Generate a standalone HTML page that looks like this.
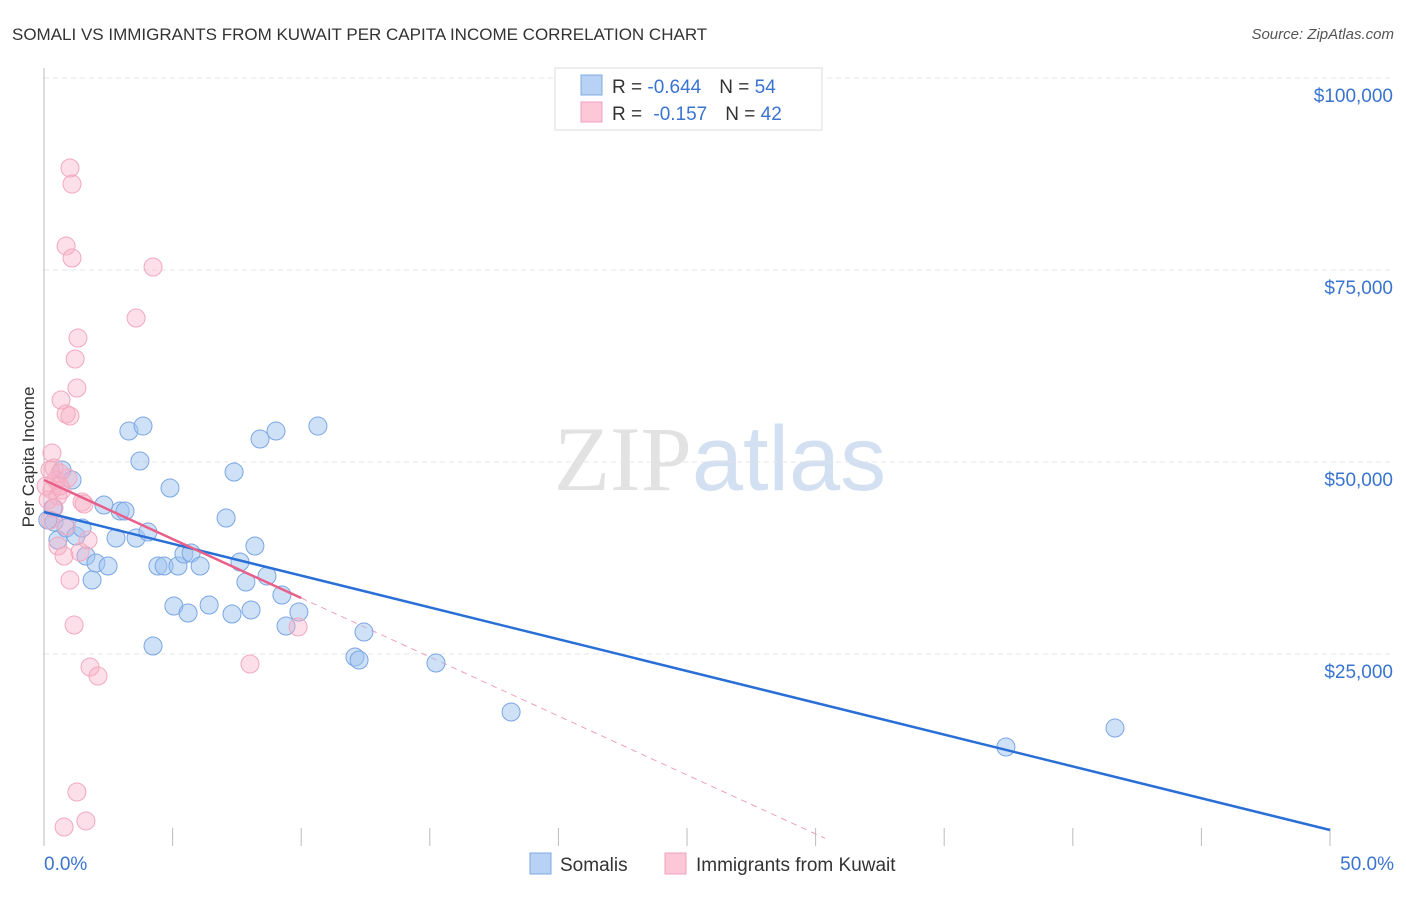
<!DOCTYPE html>
<html><head><meta charset="utf-8"><style>
body{margin:0;background:#fff;font-family:"Liberation Sans",sans-serif}
svg text{font-family:"Liberation Sans",sans-serif}
</style></head><body>
<svg id="chart" width="1406" height="892" viewBox="0 0 1406 892" xmlns="http://www.w3.org/2000/svg">
<text x="12" y="40" font-size="17" fill="#333">SOMALI VS IMMIGRANTS FROM KUWAIT PER CAPITA INCOME CORRELATION CHART</text>
<text x="1394" y="39" font-size="15" fill="#555" text-anchor="end" font-style="italic">Source: ZipAtlas.com</text>
<text transform="translate(34,457) rotate(-90)" font-size="17" fill="#333" text-anchor="middle">Per Capita Income</text>
<text x="720" y="490" font-size="92" text-anchor="middle"><tspan fill="#e2e2e2" font-family="Liberation Serif">ZIP</tspan><tspan fill="#d2e0f2">atlas</tspan></text>
<g id="grid"></g><g id="axes"></g><g id="lines"></g><g id="pts"></g>
<g>
<rect x="555" y="68" width="267" height="62" fill="#fff" stroke="#ddd"/>
<rect x="581" y="75" width="21" height="20" fill="#b8d2f5" stroke="#7fa8e0"/>
<text x="612" y="93" font-size="19" fill="#333">R = <tspan fill="#3a74d0">-0.644</tspan><tspan dx="18">N = </tspan><tspan fill="#3a74d0">54</tspan></text>
<rect x="581" y="102" width="21" height="20" fill="#fcc8d8" stroke="#eea0b8"/>
<text x="612" y="120" font-size="19" fill="#333">R = <tspan dx="6" fill="#3a74d0">-0.157</tspan><tspan dx="18">N = </tspan><tspan fill="#3a74d0">42</tspan></text>
</g>
<g><rect x="530" y="853" width="21" height="21" fill="#b8d2f5" stroke="#7fa8e0"/><text x="560" y="871" font-size="19" fill="#333">Somalis</text></g>
<g><rect x="665" y="853" width="21" height="21" fill="#fcc8d8" stroke="#eea0b8"/><text x="696" y="871" font-size="19" fill="#333">Immigrants from Kuwait</text></g>
</svg>
<script>
const yTicks=[25000,50000,75000,100000];
const yTickLabels=["$25,000","$50,000","$75,000","$100,000"];
const xTicks=[0,5,10,15,20,25,30,35,40,45,50];
const somaliX=[0.35,0.39,0.54,0.70,1.09,0.86,1.24,1.48,1.63,1.87,2.02,2.33,2.49,2.80,2.96,3.15,3.30,3.58,3.73,3.85,4.04,4.24,4.43,4.67,4.90,5.05,5.21,5.44,5.60,5.72,6.07,6.42,7.08,7.31,7.39,7.62,7.85,8.05,8.20,8.40,8.67,9.02,9.25,9.41,9.91,10.65,12.09,12.25,12.44,15.24,18.16,37.40,41.64,0.15];
const somaliY=[44000,42190,39840,48960,47650,41400,40360,41400,37760,34630,36850,44400,36460,40100,43620,43620,54030,40100,50130,54680,40880,26040,36460,36460,46610,31250,36460,38020,30340,38150,36460,31380,42710,30210,48700,36980,34370,30730,39060,52990,35150,54030,32680,28640,30470,54680,24610,24220,27860,23830,17450,12890,15360,42450];
const kuwaitX=[1.01,1.09,0.86,1.09,4.24,3.58,1.32,1.21,1.28,0.66,0.86,1.01,0.31,0.39,0.62,0.47,0.23,0.31,0.70,0.54,0.16,0.39,1.48,1.56,0.86,0.54,1.40,0.78,1.71,1.01,1.17,1.79,2.10,8.01,9.88,1.28,0.78,1.63,0.08,0.62,0.23,0.93];
const kuwaitY=[88280,86190,78120,76560,75390,68750,66140,63410,59630,58070,56250,55990,51170,49220,48560,47650,48960,46350,46350,45570,45050,44010,44790,44530,41660,39060,38280,37760,39840,34630,28770,23310,22130,23700,28510,7030,2470,3260,46870,46870,42450,47910];
const somaliFit=[43490,2080];
const kuwaitFit=[47650,32290];
const NS="http://www.w3.org/2000/svg";
const X=v=>44+v*25.72, Y=v=>846-v/25000*192;
function mk(t,a,p){const e=document.createElementNS(NS,t);for(const k in a)e.setAttribute(k,a[k]);p.appendChild(e);return e;}
const g=document.getElementById('grid'),ax=document.getElementById('axes'),ln=document.getElementById('lines'),pts=document.getElementById('pts');
yTicks.forEach((t,i)=>{
 const l=mk('line',{x1:44,x2:1392,y1:Y(t),y2:Y(t),stroke:'#e4e4e4','stroke-dasharray':'5,4'},g);
 
 
 const tx=mk('text',{x:1393,y:Y(t)+24,'font-size':19,fill:'#3a74d0','text-anchor':'end'},ax);
 tx.textContent=yTickLabels[i];
 
 
});
const yl=mk('line',{x1:44,x2:44,y1:68,y2:846,stroke:'#bbb'},ax);


xTicks.forEach(t=>{
 const l=mk('line',{x1:X(t),x2:X(t),y1:828,y2:846,stroke:'#bbb'},ax);
 
 
});
const x0=mk('text',{x:44,y:870,'font-size':19,fill:'#3a74d0'},ax);x0.textContent=xTicks[0].toFixed(1)+'%';


const x1=mk('text',{x:1394,y:870,'font-size':19,fill:'#3a74d0','text-anchor':'end'},ax);x1.textContent=xTicks[xTicks.length-1].toFixed(1)+'%';


const slopeK=(kuwaitFit[1]-kuwaitFit[0])/10, xz=(1000-kuwaitFit[0])/slopeK;
const kd=mk('line',{x1:X(10),y1:Y(kuwaitFit[1]),x2:X(xz),y2:Y(1000),stroke:'#f0a0b8','stroke-dasharray':'6,5'},ln);


somaliX.forEach((v,i)=>{
 const c=mk('circle',{cx:X(v),cy:Y(somaliY[i]),r:9,fill:'rgba(160,195,240,0.5)',stroke:'#7aa6e4','stroke-width':1},pts);
 
 
});
kuwaitX.forEach((v,i)=>{
 const c=mk('circle',{cx:X(v),cy:Y(kuwaitY[i]),r:9,fill:'rgba(248,175,198,0.4)',stroke:'#f2a8be','stroke-width':1},pts);
 
 
});
const sl=mk('line',{x1:X(0),y1:Y(somaliFit[0]),x2:X(50),y2:Y(somaliFit[1]),stroke:'#2a6fd6','stroke-width':2.5},pts);


const kl=mk('line',{x1:X(0),y1:Y(kuwaitFit[0]),x2:X(10),y2:Y(kuwaitFit[1]),stroke:'#e8608a','stroke-width':2.5},pts);


</script>
</body></html>
